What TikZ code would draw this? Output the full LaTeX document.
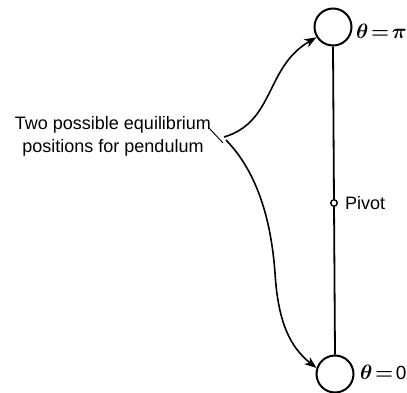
\documentclass[tikz,border=0pt]{standalone}
\usepackage{fontspec}
\setmainfont{Liberation Sans}
\usetikzlibrary{arrows.meta}
\begin{document}
\begin{tikzpicture}[x=1pt,y=1pt,
  bob/.style={circle,draw,line width=2pt,minimum size=37pt,inner sep=0pt},
  pivotdot/.style={circle,draw,line width=1.4pt,fill=white,minimum size=6.5pt,inner sep=0pt},
  lbl/.style={font=\fontsize{18}{23}\selectfont,inner sep=0pt},
  mlbl/.style={font=\fontsize{21}{23}\selectfont\boldmath,inner sep=0pt,anchor=west},
  rod/.style={line width=1.8pt},
  curvearrow/.style={line width=1.6pt,-{Stealth[length=12pt,width=9pt,inset=3.5pt]}}]
\useasboundingbox (0,0) rectangle (407,392);
\node[bob] (top) at (333,365) {};
\node[bob] (bot) at (335,18) {};
\node[pivotdot] (pivot) at (334,189) {};
\draw[rod] (top.south) -- (pivot);
\draw[rod] (pivot) -- (bot.north);
\node[mlbl] (tpi) at (356,361) {$\theta\!=\!\pi$};
\node[mlbl] (tzero) at (360,20) {$\theta\!=\!\mbox{\fontsize{19}{23}\selectfont 0}$};
\node[lbl,anchor=west] (piv) at (345,189) {Pivot};
\node[lbl,align=center] (txt) at (113,256) {Two possible equilibrium\\positions for pendulum};
\coordinate (tick1) at (209,264);
\coordinate (tick2) at (223,249);
\coordinate (v1) at (224,255);
\coordinate (v2) at (226,252);
\draw[line width=0.9pt] (tick1) -- (tick2);
\draw[curvearrow] (v1) .. controls (275,270) and (265,325) .. (top.212);
\draw[curvearrow] (v2) .. controls (262,215) and (272,160) .. (275,119) .. controls (278,70) and (290,45) .. (bot.162);
\end{tikzpicture}
\end{document}
